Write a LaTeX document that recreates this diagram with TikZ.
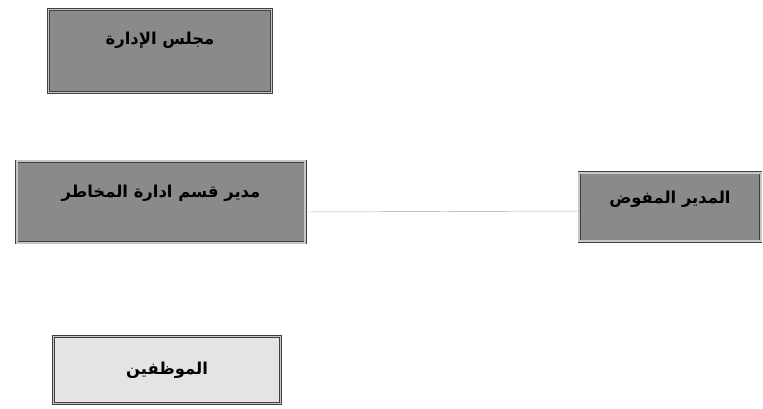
\documentclass[tikz,border=0pt]{standalone}
\usepackage{fontspec}
\newfontfamily\arabicfont[Script=Arabic]{DejaVu Sans}
\TeXXeTstate=1
\definecolor{boxgray}{RGB}{138,138,138}
\definecolor{boxlight}{RGB}{228,228,230}
\tikzset{
 orgbox/.style={draw=black!75,line width=0.8pt,double=gray!45,double distance=1.2pt,
   fill=boxgray,font=\arabicfont\bfseries\fontsize{14}{16}\selectfont,text=black},
 lightbox/.style={orgbox,fill=boxlight}
}
\begin{document}
\begin{tikzpicture}[x=0.03cm,y=-0.03cm]
 \useasboundingbox (0,0) rectangle (763,408);
 \node[orgbox,minimum width=6.7cm,minimum height=2.5cm,text depth=0.75cm] (board) at (160,51) {\beginR مجلس الإدارة\endR};
 \node[orgbox,minimum width=8.65cm,minimum height=2.45cm,text depth=0.65cm] (risk) at (161,202) {\beginR مدير قسم ادارة المخاطر\endR};
 \node[orgbox,minimum width=5.45cm,minimum height=2.05cm,text depth=0.6cm] (deleg) at (670,207) {\beginR المدير المفوض\endR};
 \node[lightbox,minimum width=6.8cm,minimum height=2cm] (staff) at (167,370) {\beginR الموظفين\endR};
 \draw[gray!70] ([yshift=-0.3cm]risk.east) -- ([yshift=-0.12cm]deleg.west);
\end{tikzpicture}
\end{document}
